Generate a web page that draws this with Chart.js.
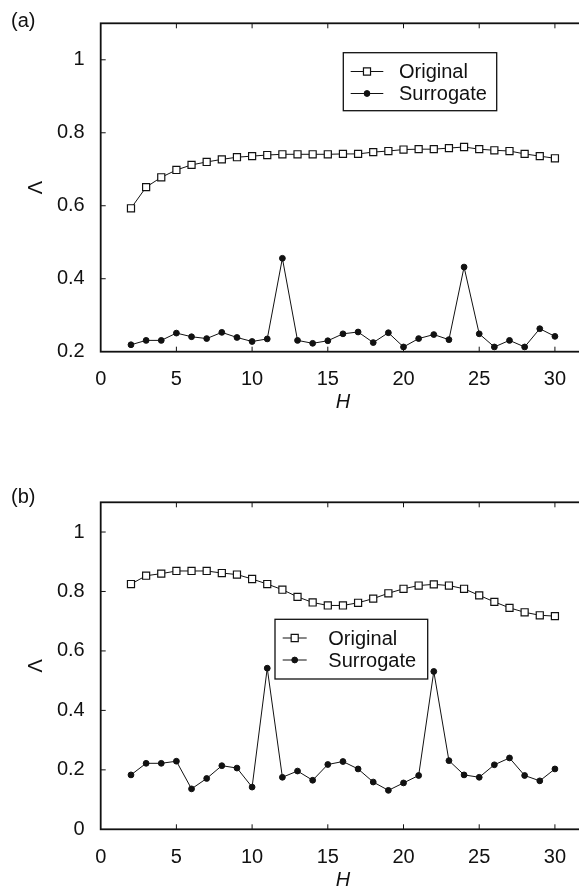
<!DOCTYPE html>
<html>
<head>
<meta charset="utf-8">
<script src="https://cdn.jsdelivr.net/npm/chart.js@4.4.0/dist/chart.umd.min.js"></script>
<style>
  html, body { margin: 0; padding: 0; background: #fff; overflow: hidden; }
  body { width: 579px; height: 892px; position: relative; }
  .panel { position: absolute; left: 0; width: 600px; height: 446px; }
  .tag { position: absolute; left: 11px; font: 20px "Liberation Sans", Arial, sans-serif; color: #111; }
</style>
</head>
<body>
<div class="panel" style="top:0"><canvas id="chartA" width="600" height="446"></canvas></div>
<div class="panel" style="top:446px"><canvas id="chartB" width="600" height="446"></canvas></div>
<div class="tag" style="top:9px">(a)</div>
<div class="tag" style="top:485px">(b)</div>
<script>
// H values (horizontal axis)
const hValues = [2, 3, 4, 5, 6, 7, 8, 9, 10, 11, 12, 13, 14, 15, 16,
  17, 18, 19, 20, 21, 22, 23, 24, 25, 26, 27, 28, 29, 30];

// panel (a)
const originalA = [0.593, 0.651, 0.678, 0.698, 0.712, 0.720, 0.727, 0.733, 0.736, 0.739,
  0.741, 0.741, 0.741, 0.741, 0.742, 0.742, 0.747, 0.750, 0.754, 0.755,
  0.755, 0.758, 0.761, 0.755, 0.752, 0.750, 0.742, 0.736, 0.730];
const surrogateA = [0.219, 0.231, 0.231, 0.251, 0.241, 0.236, 0.253, 0.239, 0.228, 0.235,
  0.456, 0.231, 0.223, 0.230, 0.249, 0.254, 0.225, 0.252, 0.213, 0.236,
  0.247, 0.233, 0.432, 0.249, 0.213, 0.231, 0.213, 0.263, 0.242];

// panel (b)
const originalB = [0.825, 0.853, 0.860, 0.869, 0.869, 0.869, 0.862, 0.857, 0.842, 0.825,
  0.806, 0.782, 0.763, 0.753, 0.753, 0.762, 0.776, 0.794, 0.809, 0.820,
  0.824, 0.820, 0.809, 0.787, 0.765, 0.745, 0.730, 0.720, 0.717];
const surrogateB = [0.183, 0.222, 0.222, 0.229, 0.136, 0.171, 0.214, 0.206, 0.142, 0.542,
  0.175, 0.196, 0.165, 0.218, 0.228, 0.203, 0.159, 0.131, 0.156, 0.181,
  0.531, 0.231, 0.183, 0.175, 0.217, 0.240, 0.181, 0.163, 0.203];

// tick labels
const xTicks = [0, 5, 10, 15, 20, 25, 30];
const yTicksA = [0.2, 0.4, 0.6, 0.8, 1];
const yTicksB = [0, 0.2, 0.4, 0.6, 0.8, 1];
const seriesNames = ["Original", "Surrogate"];

const FONT = '"Liberation Sans", Arial, Helvetica, sans-serif';
const INK = "#111";

// frame round the plot area with inward tick marks on every side
const framePlugin = {
  id: "frame",
  afterDatasetsDraw(chart) {
    const { ctx, chartArea: a, scales } = chart;
    const len = 5;
    ctx.save();
    ctx.strokeStyle = INK;
    ctx.lineWidth = 1;
    ctx.beginPath();
    scales.x.ticks.forEach((t) => {
      const px = scales.x.getPixelForValue(t.value);
      if (px <= a.left + 0.5 || px >= a.right - 0.5) return;
      ctx.moveTo(px, a.bottom);
      ctx.lineTo(px, a.bottom - len);
      ctx.moveTo(px, a.top);
      ctx.lineTo(px, a.top + len);
    });
    scales.y.ticks.forEach((t) => {
      const py = scales.y.getPixelForValue(t.value);
      if (py <= a.top + 0.5 || py >= a.bottom - 0.5) return;
      ctx.moveTo(a.left, py);
      ctx.lineTo(a.left + len, py);
      ctx.moveTo(a.right, py);
      ctx.lineTo(a.right - len, py);
    });
    ctx.stroke();
    ctx.lineWidth = 1.8;
    ctx.strokeRect(a.left, a.top, a.right - a.left, a.bottom - a.top);
    ctx.restore();
  },
};

// boxed legend drawn inside the plot
const boxLegendPlugin = {
  id: "boxLegend",
  afterDraw(chart, args, opts) {
    const { ctx } = chart;
    ctx.save();
    ctx.fillStyle = "#fff";
    ctx.fillRect(opts.x, opts.y, opts.w, opts.h);
    ctx.strokeStyle = INK;
    ctx.lineWidth = 1.3;
    ctx.strokeRect(opts.x, opts.y, opts.w, opts.h);
    chart.data.datasets.forEach((ds, i) => {
      const cy = opts.rows[i];
      const mx = (opts.lineX1 + opts.lineX2) / 2;
      ctx.strokeStyle = INK;
      ctx.lineWidth = 1;
      ctx.beginPath();
      ctx.moveTo(opts.lineX1, cy);
      ctx.lineTo(opts.lineX2, cy);
      ctx.stroke();
      ctx.beginPath();
      if (ds.pointStyle === "rect") {
        const s = ds.pointRadius * Math.SQRT1_2;
        ctx.rect(mx - s, cy - s, 2 * s, 2 * s);
      } else {
        ctx.arc(mx, cy, ds.pointRadius, 0, Math.PI * 2);
      }
      ctx.fillStyle = ds.pointBackgroundColor;
      ctx.fill();
      ctx.lineWidth = ds.pointBorderWidth;
      ctx.stroke();
      ctx.fillStyle = INK;
      ctx.font = "20px " + FONT;
      ctx.textBaseline = "middle";
      ctx.fillText(ds.label, opts.textX, cy + 1);
    });
    ctx.restore();
  },
};

function makeChart(id, original, surrogate, yMin, yTicks, geom) {
  return new Chart(document.getElementById(id), {
    type: "line",
    data: {
      datasets: [
        {
          label: seriesNames[0],
          data: hValues.map((h, i) => ({ x: h, y: original[i] })),
          borderColor: INK,
          borderWidth: 1,
          pointStyle: "rect",
          pointRadius: 5,
          pointBackgroundColor: "#fff",
          pointBorderColor: INK,
          pointBorderWidth: 1.2,
          tension: 0,
        },
        {
          label: seriesNames[1],
          data: hValues.map((h, i) => ({ x: h, y: surrogate[i] })),
          borderColor: INK,
          borderWidth: 1,
          pointStyle: "circle",
          pointRadius: 2.9,
          pointBackgroundColor: INK,
          pointBorderColor: INK,
          pointBorderWidth: 1,
          tension: 0,
          clip: false,
        },
      ],
    },
    options: {
      responsive: false,
      animation: false,
      devicePixelRatio: 1,
      events: [],
      layout: { padding: { left: 0, right: 14.8, top: geom.top, bottom: 0 } },
      plugins: {
        legend: { display: false },
        tooltip: { enabled: false },
        boxLegend: geom.legend,
      },
      scales: {
        x: {
          type: "linear",
          min: 0,
          max: 32,
          afterBuildTicks: (s) => {
            s.ticks = xTicks.map((v) => ({ value: v }));
          },
          afterFit: (s) => {
            s.height = geom.xAxisH;
          },
          grid: { display: false },
          border: { display: false },
          ticks: {
            autoSkip: false,
            maxRotation: 0,
            padding: 8,
            color: INK,
            font: { family: FONT, size: 20 },
          },
          title: {
            display: true,
            text: "H",
            color: INK,
            font: { family: FONT, size: 20, style: "italic" },
            padding: { top: 0, bottom: geom.titlePad },
          },
        },
        y: {
          type: "linear",
          min: yMin,
          max: 1.1,
          afterBuildTicks: (s) => {
            s.ticks = yTicks.map((v) => ({ value: v }));
          },
          afterFit: (s) => {
            s.width = 100.7;
          },
          grid: { display: false },
          border: { display: false },
          ticks: {
            autoSkip: false,
            padding: 8,
            color: INK,
            font: { family: FONT, size: 20 },
            callback: (v) => String(+Number(v).toFixed(1)),
          },
          title: {
            display: true,
            text: "Λ",
            color: INK,
            font: { family: FONT, size: 20 },
            padding: { top: 24, bottom: 0 },
          },
        },
      },
    },
    plugins: [framePlugin, boxLegendPlugin],
  });
}

makeChart("chartA", originalA, surrogateA, 0.2, yTicksA, {
  top: 23.3,
  xAxisH: 94.3,
  titlePad: 31.3,
  legend: {
    x: 343.3, y: 52.7, w: 153.4, h: 58,
    rows: [71.5, 93.5],
    lineX1: 350.7, lineX2: 383.3, textX: 399,
  },
});

makeChart("chartB", originalB, surrogateB, 0, yTicksB, {
  top: 56.3,
  xAxisH: 62.7,
  titlePad: 0,
  legend: {
    x: 275, y: 173.3, w: 152.7, h: 59.7,
    rows: [192, 214],
    lineX1: 282.7, lineX2: 306.7, textX: 328.3,
  },
});
</script>
</body>
</html>
